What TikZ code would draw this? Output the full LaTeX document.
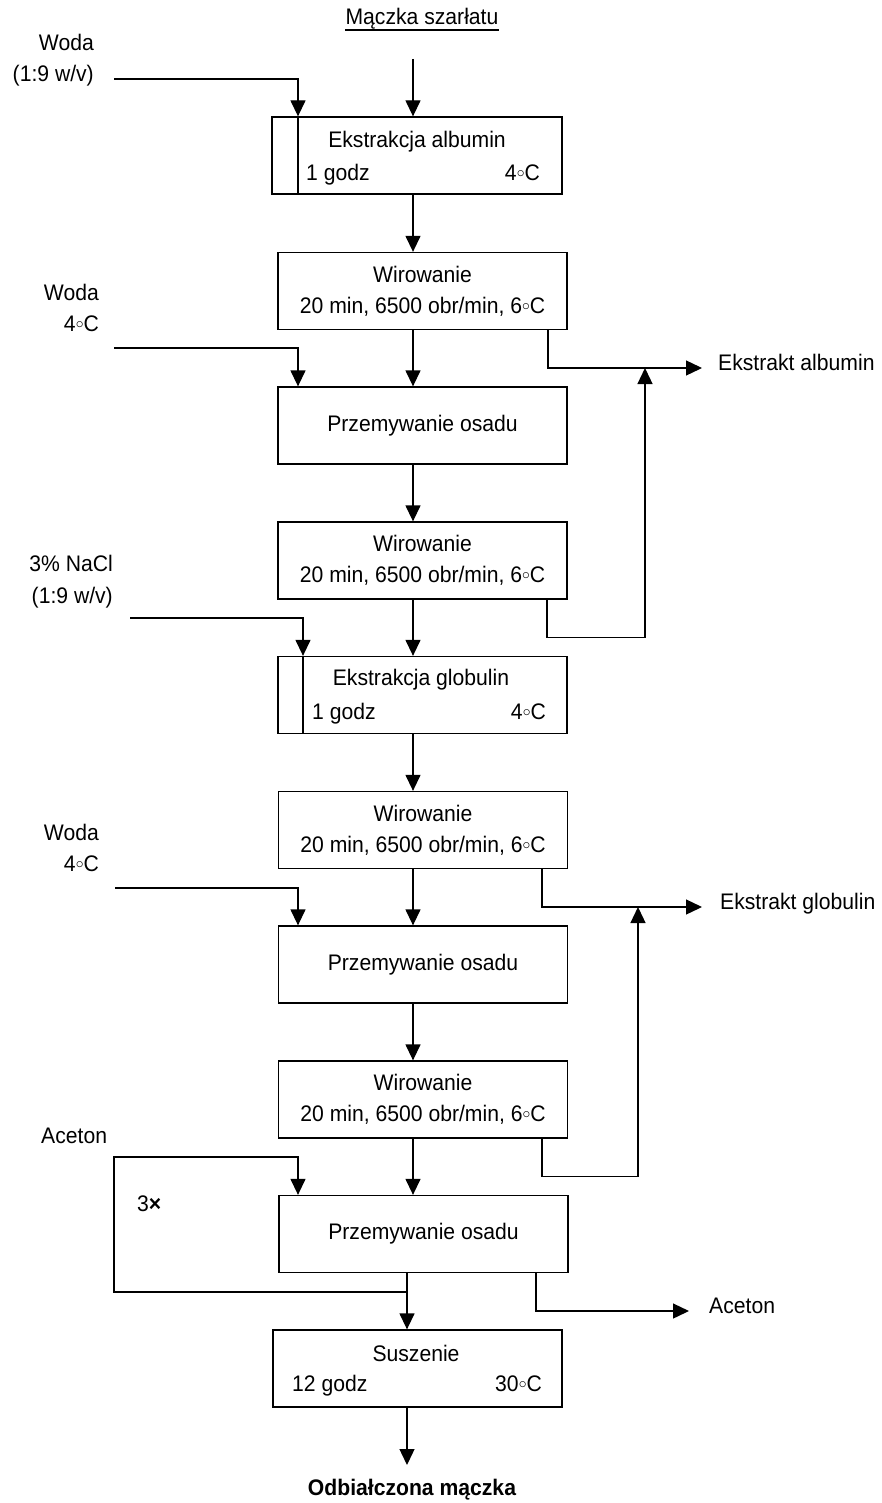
\documentclass[tikz,border=0pt]{standalone}
\usepackage{fontspec}
\setmainfont{Liberation Sans}[FakeStretch=0.94]
\usetikzlibrary{arrows.meta}
\newcommand{\degC}{\raisebox{3pt}{\scalebox{0.75}{$\circ$}}C}

\begin{document}
\begin{tikzpicture}[x=1pt,y=-1pt,
  every node/.style={font=\fontsize{22.5}{31}\selectfont, inner sep=0pt},
  box/.style={draw, line width=1.3pt, minimum width=289pt, minimum height=77pt, align=center},
  flow/.style={line width=1.3pt, -{Triangle[width=15pt,length=16pt]}},
  wire/.style={line width=1.3pt}]

\useasboundingbox (0,0) rectangle (882,1503);

% vertical runs
\coordinate (mx) at (413,0);
\coordinate (my) at (407,0);
\coordinate (xin1) at (298,0);
\coordinate (xin2) at (303,0);
\coordinate (xo1) at (548,0);
\coordinate (xo2) at (547,0);
\coordinate (xo3) at (542,0);
\coordinate (xo4) at (536,0);

% raw material
\node[anchor=base] (mq) at (422,25) {Mączka szarłatu};
\draw[line width=1.2pt] ([yshift=-5pt]mq.base west) -- ([yshift=-5pt]mq.base east);
\coordinate (mqout) at (413,59);

% process steps
\node[box, minimum width=290pt] (b1) at (417,155.5) {};
\node[anchor=base] (b1t) at (417,148) {Ekstrakcja albumin};
\node[anchor=base west] (b1l) at (306,181) {1 godz};
\node[anchor=base east] (b1r) at (540,181) {4\degC};
\draw[wire] (b1.north -| xin1) -- (b1.south -| xin1);

\node[box] (b2) at (422.5,291) {Wirowanie\\20 min, 6500 obr/min, 6\degC};
\node[box] (b3) at (422.5,425.5) {Przemywanie osadu};
\node[box] (b4) at (422.5,560.5) {Wirowanie\\20 min, 6500 obr/min, 6\degC};

\node[box] (b5) at (422.5,695) {};
\node[anchor=base] (b5t) at (421,685) {Ekstrakcja globulin};
\node[anchor=base west] (b5l) at (312,719) {1 godz};
\node[anchor=base east] (b5r) at (546,719) {4\degC};
\draw[wire] (b5.north -| xin2) -- (b5.south -| xin2);

\node[box] (b6) at (423,830) {Wirowanie\\20 min, 6500 obr/min, 6\degC};
\node[box] (b7) at (423,964.5) {Przemywanie osadu};
\node[box] (b8) at (423,1099.5) {Wirowanie\\20 min, 6500 obr/min, 6\degC};
\node[box] (b9) at (423.5,1234) {Przemywanie osadu};

\node[box] (b10) at (417.5,1368.5) {};
\node[anchor=base] (b10t) at (416,1361) {Suszenie};
\node[anchor=base west] (b10l) at (292,1391) {12 godz};
\node[anchor=base east] (b10r) at (542,1391) {30\degC};

\node[anchor=base, font=\fontsize{22.5}{31}\selectfont\bfseries] (res) at (412,1495) {Odbiałczona mączka};
\coordinate (resin) at (407,1465);

% main line
\draw[flow] (mqout) -- (b1.north -| mx);
\draw[flow] (b1.south -| mx) -- (b2.north -| mx);
\draw[flow] (b2.south -| mx) -- (b3.north -| mx);
\draw[flow] (b3.south -| mx) -- (b4.north -| mx);
\draw[flow] (b4.south -| mx) -- (b5.north -| mx);
\draw[flow] (b5.south -| mx) -- (b6.north -| mx);
\draw[flow] (b6.south -| mx) -- (b7.north -| mx);
\draw[flow] (b7.south -| mx) -- (b8.north -| mx);
\draw[flow] (b8.south -| mx) -- (b9.north -| mx);
\draw[flow] (b9.south -| my) -- (b10.north -| my);
\draw[flow] (b10.south -| my) -- (resin);

% feeds
\node[anchor=base east] (w1a) at (94,51) {Woda};
\node[anchor=mid east] (w1b) at (94,79) {(1:9 w/v)};
\draw[flow] ([xshift=20pt]w1b.mid east) -| (b1.north -| xin1);

\node[anchor=base east] (w2a) at (99,301) {Woda};
\node[anchor=base east] (w2b) at (99,331) {4\degC};
\coordinate (w2s) at (114,348);
\draw[flow] (w2s) -| (b3.north -| xin1);

\node[anchor=base east] (n1) at (113,571) {3\% NaCl};
\node[anchor=base east] (n2) at (113,603) {(1:9 w/v)};
\coordinate (ns) at (130,618);
\draw[flow] (ns) -| (b5.north -| xin2);

\node[anchor=base east] (w3a) at (99,840) {Woda};
\node[anchor=base east] (w3b) at (99,871) {4\degC};
\coordinate (w3s) at (115,888);
\draw[flow] (w3s) -| (b7.north -| xin1);

% acetone wash, repeated
\node[anchor=base west] (acl) at (41,1143) {Aceton};
\node[anchor=base west] (rep) at (137,1211) {3{\bfseries ×}};
\coordinate (j) at (407,1292);
\coordinate (lp) at (114,1157);
\draw[flow] (j) -| (lp) -| (b9.north -| xin1);

% extracts leaving the line
\node[anchor=mid west] (ea) at (718,368) {Ekstrakt albumin};
\coordinate (ra) at (645,368);
\draw[flow] (b2.south -| xo1) |- ([xshift=-16pt]ea.mid west);
\draw[flow] (b4.south -| xo2) -- ++(0,38) -| (ra);

\node[anchor=mid west] (eg) at (720,907) {Ekstrakt globulin};
\coordinate (rg) at (638,907);
\draw[flow] (b6.south -| xo3) |- ([xshift=-18pt]eg.mid west);
\draw[flow] (b8.south -| xo3) -- ++(0,38) -| (rg);

\node[anchor=mid west] (aco) at (709,1311) {Aceton};
\draw[flow] (b9.south -| xo4) |- ([xshift=-20pt]aco.mid west);

\end{tikzpicture}
\end{document}
